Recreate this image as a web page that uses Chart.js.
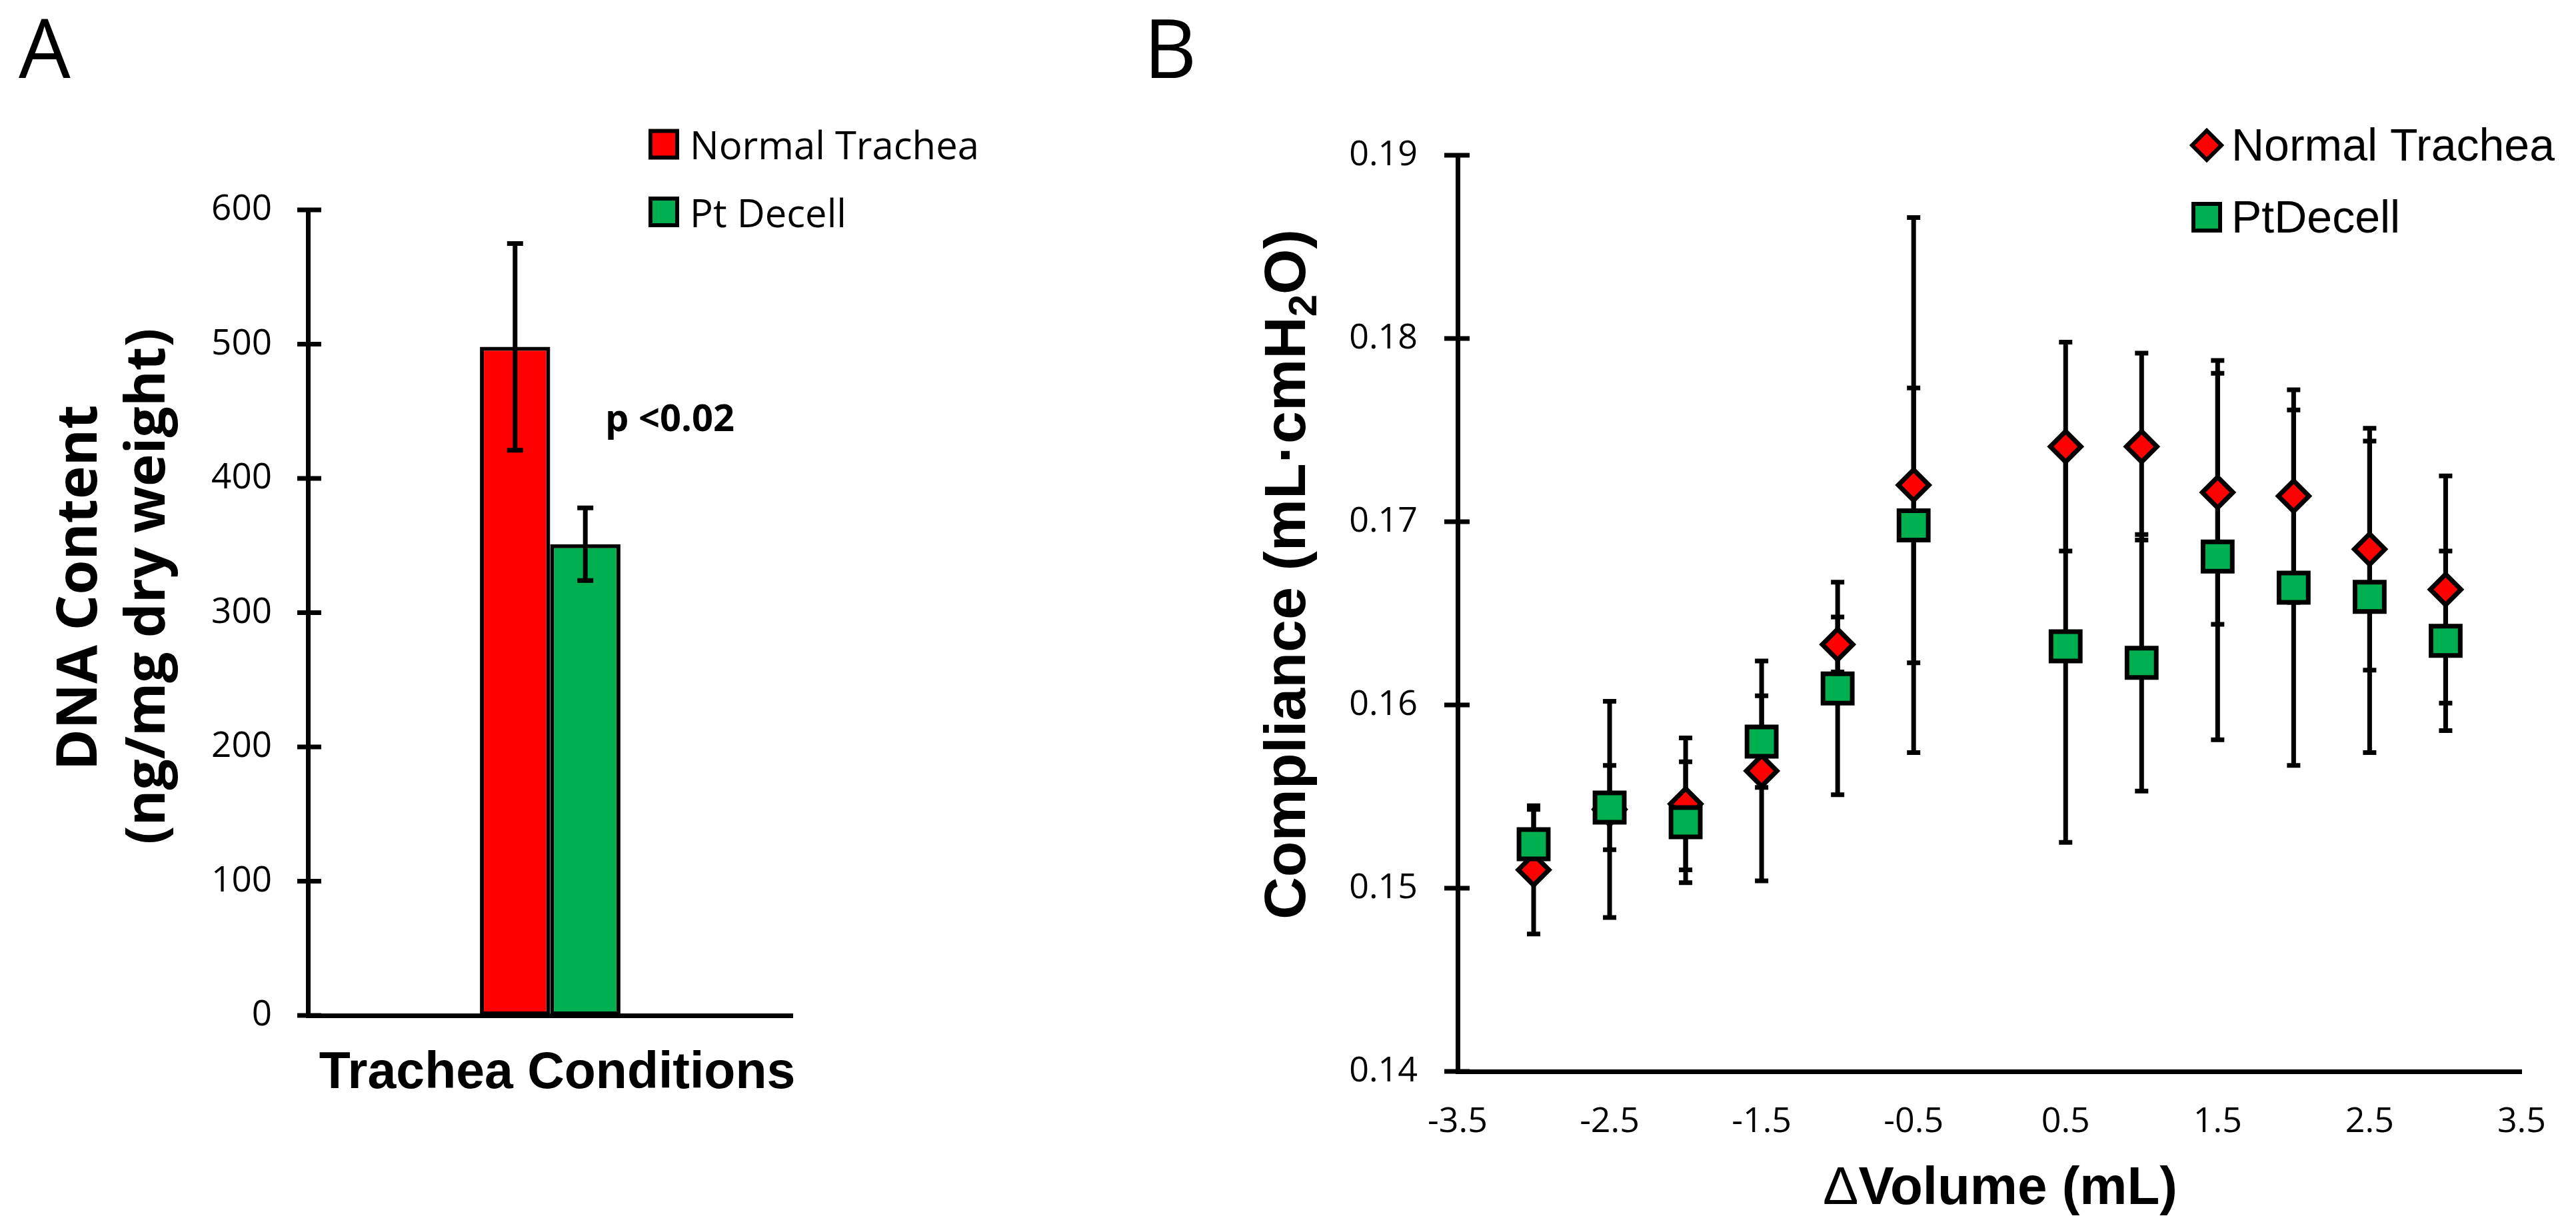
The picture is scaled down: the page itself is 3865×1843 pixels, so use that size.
<!DOCTYPE html>
<html>
<head>
<meta charset="utf-8">
<script src="https://cdn.jsdelivr.net/npm/chart.js@4.4.1/dist/chart.umd.min.js"></script>
<style>
html,body{margin:0;padding:0;background:#fff;}
#wrap{position:relative;width:3865px;height:1843px;overflow:hidden;background:#fff;}
.box{position:absolute;top:0;height:1843px;}
</style>
</head>
<body>
<div id="wrap">
  <div class="box" style="left:0;width:1700px;"><canvas id="chartA"></canvas></div>
  <div class="box" style="left:1700px;width:2165px;"><canvas id="chartB"></canvas></div>
</div>
<script>
// ---------- Panel A data ----------
const dnaCategories = ['Trachea Conditions'];
const dnaNormal = [498];
const dnaNormalErr = [77];
const dnaDecell = [351];
const dnaDecellErr = [27];
const dnaTicks = [0, 100, 200, 300, 400, 500, 600];

// ---------- Panel B data ----------
const volumes = [-3, -2.5, -2, -1.5, -1, -0.5, 0.5, 1, 1.5, 2, 2.5, 3];
const compNormal    = [0.1510, 0.1543, 0.1546, 0.1564, 0.1633, 0.1720, 0.1741, 0.1741, 0.1716, 0.1714, 0.1685, 0.1663];
const compNormalErr = [0.0035, 0.0059, 0.0036, 0.0060, 0.0015, 0.0146, 0.0057, 0.0051, 0.0072, 0.0058, 0.0066, 0.0062];
const compDecell    = [0.1524, 0.1544, 0.1536, 0.1580, 0.1609, 0.1698, 0.1632, 0.1623, 0.1681, 0.1664, 0.1659, 0.1635];
const compDecellErr = [0.0019, 0.0023, 0.0033, 0.0025, 0.0058, 0.0075, 0.0107, 0.0070, 0.0100, 0.0097, 0.0085, 0.0049];
const volTicks  = [-3.5, -2.5, -1.5, -0.5, 0.5, 1.5, 2.5, 3.5];
const compTicks = [0.14, 0.15, 0.16, 0.17, 0.18, 0.19];

const RED = '#FF0000';
const GREEN = '#00B050';

// ---------- plugins ----------
function makeErrorBars(layer, capHalf, lw) {
  function draw(chart) {
    const ctx = chart.ctx;
    ctx.save();
    ctx.strokeStyle = '#000';
    ctx.lineWidth = lw;
    ctx.lineCap = 'butt';
    chart.data.datasets.forEach((ds, i) => {
      const meta = chart.getDatasetMeta(i);
      const ys = chart.scales[meta.yAxisID];
      meta.data.forEach((el, j) => {
        const raw = ds.data[j];
        const v = (typeof raw === 'object') ? raw.y : raw;
        const e = ds.errors[j];
        const x = el.x;
        const yt = ys.getPixelForValue(v + e);
        const yb = ys.getPixelForValue(v - e);
        ctx.beginPath();
        ctx.moveTo(x, yt); ctx.lineTo(x, yb);
        ctx.moveTo(x - capHalf, yt); ctx.lineTo(x + capHalf, yt);
        ctx.moveTo(x - capHalf, yb); ctx.lineTo(x + capHalf, yb);
        ctx.stroke();
      });
    });
    ctx.restore();
  }
  return layer === 'before'
    ? {id: 'errorBars', beforeDatasetsDraw: draw}
    : {id: 'errorBars', afterDatasetsDraw: draw};
}

function makeCrossTicks(leftLen, rightLen, lw) {
  return {
    id: 'crossTicks',
    afterDraw(chart) {
      const ctx = chart.ctx;
      const ys = chart.scales.y;
      const x0 = chart.chartArea.left;
      ctx.save();
      ctx.strokeStyle = '#000';
      ctx.lineWidth = lw;
      ys.ticks.forEach(t => {
        const y = ys.getPixelForValue(t.value);
        ctx.beginPath();
        ctx.moveTo(x0 - leftLen, y);
        ctx.lineTo(x0 + rightLen, y);
        ctx.stroke();
      });
      ctx.restore();
    }
  };
}

function makeText(items) {
  return {
    id: 'figText',
    afterDraw(chart) {
      const ctx = chart.ctx;
      items.forEach(it => {
        ctx.save();
        ctx.translate(it.x, it.y);
        if (it.rotate) ctx.rotate(it.rotate);
        ctx.fillStyle = '#000';
        ctx.textBaseline = 'alphabetic';
        ctx.textAlign = 'left';
        const widths = it.parts.map(p => { ctx.font = p.font; return ctx.measureText(p.text).width; });
        const total = widths.reduce((a, b) => a + b, 0);
        let cx = it.align === 'center' ? -total / 2 : (it.align === 'right' ? -total : 0);
        it.parts.forEach((p, k) => {
          ctx.font = p.font;
          ctx.fillText(p.text, cx, p.dy || 0);
          cx += widths[k];
        });
        ctx.restore();
      });
    }
  };
}

function drawMarker(ctx, style, x, y, r, fill, bw) {
  ctx.save();
  ctx.fillStyle = fill;
  ctx.strokeStyle = '#000';
  ctx.lineWidth = bw;
  ctx.lineJoin = 'miter';
  ctx.beginPath();
  if (style === 'rectRot') {
    ctx.moveTo(x - r, y); ctx.lineTo(x, y - r); ctx.lineTo(x + r, y); ctx.lineTo(x, y + r); ctx.closePath();
  } else {
    ctx.rect(x - r, y - r, 2 * r, 2 * r);
  }
  ctx.fill();
  ctx.stroke();
  ctx.restore();
}

function makeLegend(cfg) {
  return {
    id: 'figLegend',
    afterDraw(chart) {
      const ctx = chart.ctx;
      chart.data.datasets.forEach((ds, i) => {
        const cy = cfg.y0 + i * cfg.dy;
        const style = cfg.styles ? cfg.styles[i] : 'rect';
        const r = cfg.sizes ? cfg.sizes[i] : cfg.size;
        drawMarker(ctx, style, cfg.mx, cy, r, ds.backgroundColor, cfg.bw);
        ctx.save();
        ctx.fillStyle = '#000';
        ctx.font = cfg.font;
        ctx.textBaseline = 'alphabetic';
        ctx.textAlign = 'left';
        ctx.fillText(ds.label, cfg.tx, cy + cfg.baseOff);
        ctx.restore();
      });
    }
  };
}

// ---------- Panel A ----------
new Chart(document.getElementById('chartA'), {
  type: 'bar',
  data: {
    labels: dnaCategories,
    datasets: [
      {label: 'Normal Trachea', data: dnaNormal, errors: dnaNormalErr, backgroundColor: RED,
       borderColor: '#000', borderWidth: 6, borderSkipped: false},
      {label: 'Pt Decell', data: dnaDecell, errors: dnaDecellErr, backgroundColor: GREEN,
       borderColor: '#000', borderWidth: 6, borderSkipped: false}
    ]
  },
  options: {
    responsive: true, maintainAspectRatio: false, animation: false, devicePixelRatio: 1,
    layout: {padding: {left: 0, top: 315, right: 511, bottom: 319}},
    datasets: {bar: {categoryPercentage: 0.29, barPercentage: 1.0}},
    plugins: {legend: {display: false}, tooltip: {enabled: false}},
    scales: {
      x: {
        grid: {display: false, drawTicks: false},
        ticks: {display: false},
        border: {display: true, color: '#000', width: 7},
        afterFit(s) { s.height = 0; }
      },
      y: {
        min: 0, max: 600,
        afterBuildTicks(s) { s.ticks = dnaTicks.map(v => ({value: v})); },
        grid: {display: false, drawTicks: false},
        border: {display: true, color: '#000', width: 7},
        ticks: {color: '#000', font: {family: 'Open Sans', size: 53}, padding: 54},
        afterFit(s) { s.width = 462; }
      }
    }
  },
  plugins: [
    makeErrorBars('after', 12, 7),
    makeCrossTicks(16, 20, 7),
    makeText([
      {x: 28, y: 117, align: 'left', parts: [{text: 'A', font: '123px "Open Sans"'}]},
      {x: 836, y: 1633, align: 'center', parts: [{text: 'Trachea Conditions', font: 'bold 77px "Liberation Sans"'}]},
      {x: 145, y: 882, align: 'center', rotate: -Math.PI / 2, parts: [{text: 'DNA Content', font: 'bold 84px "Open Sans"'}]},
      {x: 247, y: 880, align: 'center', rotate: -Math.PI / 2, parts: [{text: '(ng/mg dry weight)', font: 'bold 82px "Open Sans"'}]},
      {x: 908, y: 647, align: 'left', parts: [{text: 'p <0.02', font: 'bold 56px "Open Sans"'}]}
    ]),
    makeLegend({mx: 996, y0: 216.5, dy: 101.5, size: 20, bw: 6, tx: 1035, baseOff: 22.5, font: '58px "Open Sans"'})
  ]
});

// ---------- Panel B ----------
new Chart(document.getElementById('chartB'), {
  type: 'scatter',
  data: {
    datasets: [
      {label: 'Normal Trachea', data: volumes.map((x, i) => ({x: x, y: compNormal[i]})), errors: compNormalErr,
       backgroundColor: RED, pointBackgroundColor: RED, pointBorderColor: '#000', pointBorderWidth: 7,
       pointStyle: 'rectRot', pointRadius: 23, showLine: false, order: 2},
      {label: 'PtDecell', data: volumes.map((x, i) => ({x: x, y: compDecell[i]})), errors: compDecellErr,
       backgroundColor: GREEN, pointBackgroundColor: GREEN, pointBorderColor: '#000', pointBorderWidth: 7,
       pointStyle: 'rect', pointRadius: 31, showLine: false, order: 1}
    ]
  },
  options: {
    responsive: true, maintainAspectRatio: false, animation: false, devicePixelRatio: 1,
    layout: {padding: {left: 0, top: 233, right: 49, bottom: 0}},
    plugins: {legend: {display: false}, tooltip: {enabled: false}},
    scales: {
      x: {
        type: 'linear', min: -3.5, max: 3.5,
        afterBuildTicks(s) { s.ticks = volTicks.map(v => ({value: v})); },
        grid: {display: false, drawTicks: false},
        border: {display: true, color: '#000', width: 7},
        ticks: {color: '#000', font: {family: 'Open Sans', size: 52}, padding: 45, maxRotation: 0, autoSkip: false,
                callback: v => Number(v).toFixed(1)},
        afterFit(s) { s.height = 235; }
      },
      y: {
        min: 0.14, max: 0.19,
        afterBuildTicks(s) { s.ticks = compTicks.map(v => ({value: v})); },
        grid: {display: false, drawTicks: false},
        border: {display: true, color: '#000', width: 7},
        ticks: {color: '#000', font: {family: 'Open Sans', size: 52}, padding: 60,
                callback: v => Number(v).toFixed(2)},
        afterFit(s) { s.width = 487; }
      }
    }
  },
  plugins: [
    makeErrorBars('before', 10, 7),
    makeCrossTicks(20, 18, 7),
    makeText([
      {x: 16, y: 117, align: 'left', parts: [{text: 'B', font: '123px "Open Sans"'}]},
      {x: 1301, y: 1807, align: 'center', parts: [
        {text: 'Δ', font: '80px "Liberation Sans"'},
        {text: 'Volume (mL)', font: 'bold 80px "Liberation Sans"'}]},
      {x: 258, y: 862, align: 'center', rotate: -Math.PI / 2, parts: [
        {text: 'Compliance (mL·cmH', font: 'bold 88px "Liberation Sans"'},
        {text: '2', font: 'bold 60px "Liberation Sans"', dy: 17},
        {text: 'O)', font: 'bold 88px "Liberation Sans"'}]}
    ]),
    makeLegend({mx: 1611, y0: 218, dy: 108, styles: ['rectRot', 'rect'], sizes: [22, 20], bw: 6,
                tx: 1648, baseOff: 23, font: '68px "Liberation Sans"'})
  ]
});
</script>
</body>
</html>
